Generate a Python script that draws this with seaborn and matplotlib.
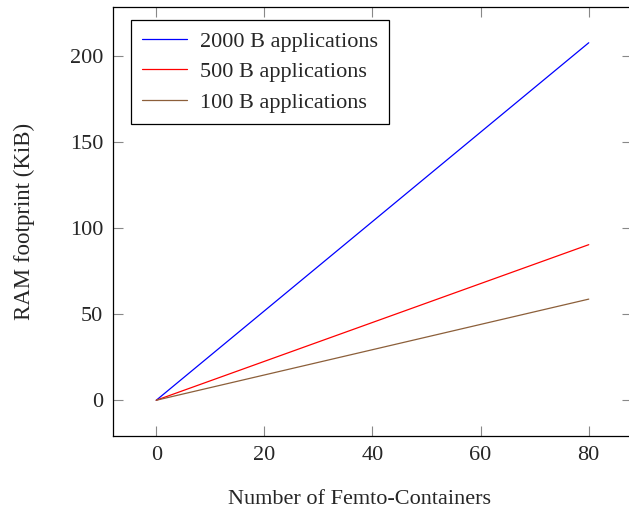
import pandas as pd
import matplotlib
matplotlib.use('Agg')
import matplotlib.pyplot as plt
import seaborn as sns

# data
containers = [0, 80]
ram_2000 = [0, 207.5]
ram_500 = [0, 90.3]
ram_100 = [0, 58.7]
labels = ['2000 B applications', '500 B applications', '100 B applications']
colors = ['#0000ff', '#ff0000', '#8c5f3a']

rows = []
for lab, vals in zip(labels, [ram_2000, ram_500, ram_100]):
    for x, y in zip(containers, vals):
        rows.append({'n': x, 'ram': y, 'series': lab})
df = pd.DataFrame(rows)

sns.set_style('ticks')
plt.rcParams['font.family'] = ['Liberation Serif', 'DejaVu Serif']
plt.rcParams['font.size'] = 16

fig = plt.figure(figsize=(6.29, 5.08), dpi=100)
ax = fig.add_axes([113 / 629, 72 / 508, (632 - 113) / 629, (436 - 7) / 508])

sns.lineplot(data=df, x='n', y='ram', hue='series', hue_order=labels,
             palette=colors, linewidth=0.9, ax=ax)

# pgfplots-style 10% enlargement of the limits
ax.set_xlim(-8, 88)
ax.set_ylim(-20.75, 228.25)
ax.set_xticks([0, 20, 40, 60, 80])
ax.set_yticks([0, 50, 100, 150, 200])

ax.tick_params(direction='in', length=7.5, width=0.8, color='#888888',
               top=True, right=True, labelsize=16, pad=7)
for sp in ax.spines.values():
    sp.set_linewidth(0.9)
    sp.set_color('black')

ax.set_xlabel('Number of Femto-Containers', fontsize=16)
ax.xaxis.set_label_coords(0.475, -0.125)
ax.set_ylabel('RAM footprint (KiB)', fontsize=16.5, labelpad=25)

leg = ax.legend(loc='upper left', bbox_to_anchor=(0.035, 0.970), borderaxespad=0,
                frameon=True, fancybox=False, edgecolor='black', fontsize=16,
                handlelength=2.0, borderpad=0.5, labelspacing=0.45,
                handletextpad=0.6)
leg.get_frame().set_linewidth(0.9)
leg.get_frame().set_alpha(1)

fig.savefig('out.png', dpi=100)
